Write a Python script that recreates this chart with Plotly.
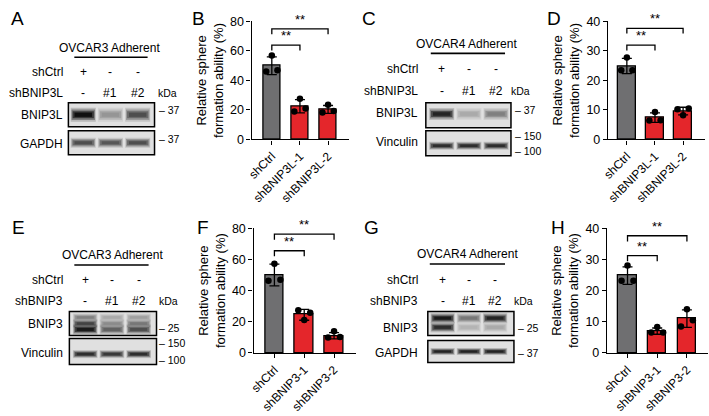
import plotly.graph_objects as go

W, H = 709, 416
FONT = "Liberation Sans, Arial, sans-serif"
GRAY = "#6f6f71"
RED = "#e4262b"

# ---------------- bar chart data ----------------
b_labels = ["shCtrl", "shBNIP3L-1", "shBNIP3L-2"]
b_means = [50.0, 22.5, 20.3]
b_sd = [6.0, 4.5, 2.7]
b_points = [[57.0, 46.0, 47.0], [27.5, 19.0, 21.0], [23.5, 18.3, 19.3]]

d_labels = ["shCtrl", "shBNIP3L-1", "shBNIP3L-2"]
d_means = [24.9, 7.4, 9.6]
d_sd = [2.6, 1.6, 1.3]
d_points = [[27.8, 23.5, 23.5], [9.3, 6.4, 6.5], [8.2, 10.2, 10.5]]

f_labels = ["shCtrl", "shBNIP3-1", "shBNIP3-2"]
f_means = [50.0, 24.5, 11.0]
f_sd = [7.0, 3.5, 2.0]
f_points = [[57.3, 46.4, 47.0], [21.2, 27.4, 25.8], [14.0, 9.9, 10.3]]

h_labels = ["shCtrl", "shBNIP3-1", "shBNIP3-2"]
h_means = [24.8, 7.0, 11.0]
h_sd = [2.8, 1.0, 2.8]
h_points = [[28.1, 23.2, 23.2], [8.3, 6.6, 6.6], [14.0, 8.5, 10.5]]

# significance brackets: (from, to, height)
b_brackets = [(0, 1, 64.0), (0, 2, 75.0)]
d_brackets = [(0, 1, 32.0), (0, 2, 37.7)]
f_brackets = [(0, 1, 65.6), (0, 2, 76.3)]
h_brackets = [(0, 1, 31.2), (0, 2, 37.6)]

# ---------------- western blot band intensities (0 = none, 1 = black) ----------------
a_bnip3l = [1.0, 0.35, 0.7]
a_gapdh = [0.7, 0.65, 0.7]
c_bnip3l = [0.9, 0.25, 0.45]
c_vinculin = [0.85, 0.85, 0.85]
e_bnip3_top = [0.45, 0.25, 0.3]
e_bnip3_mid = [0.75, 0.4, 0.5]
e_bnip3_low = [0.95, 0.6, 0.7]
e_vinculin = [0.85, 0.8, 0.85]
g_bnip3_up = [0.95, 0.5, 0.9]
g_bnip3_low = [0.85, 0.2, 0.25]
g_gapdh = [0.9, 0.9, 0.9]

sh_ctrl = ["+", "-", "-"]
sh_lanes = ["-", "#1", "#2"]

JIT = [0.0, -0.2, 0.2]

LAB = 12      # blot label size
SMALL = 10.5  # kDa / marker size


def px(x):
    return x / W


def py(y):
    return 1 - y / H


fig = go.Figure()
annotations = []
shapes = []
axes = {}


def ann(x, y, text, xanchor="center", size=LAB, yanchor="middle"):
    annotations.append(dict(
        x=px(x), y=py(y), xref="paper", yref="paper", text=text,
        showarrow=False, xanchor=xanchor, yanchor=yanchor,
        font=dict(size=size, color="black", family=FONT)))


def add_bar_panel(n, labels, means, sd, points, ymax, dtick, brackets, box, xr):
    xa, ya = f"x{n}", f"y{n}"
    fig.add_trace(go.Bar(
        x=[0, 1, 2], y=means, width=0.62,
        marker=dict(color=[GRAY, RED, RED], line=dict(color="black", width=1.3)),
        error_y=dict(type="data", array=sd, color="black", thickness=1.3, width=5),
        xaxis=xa, yaxis=ya, showlegend=False))
    for i, pts in enumerate(points):
        fig.add_trace(go.Scatter(
            x=[i + j for j in JIT], y=pts, mode="markers",
            marker=dict(color="black", size=6.5),
            xaxis=xa, yaxis=ya, showlegend=False))
    drop = ymax * 0.045
    for a, b, h in brackets:
        fig.add_trace(go.Scatter(
            x=[a, a, b, b], y=[h - drop, h, h, h - drop], mode="lines",
            line=dict(color="black", width=1.3),
            xaxis=xa, yaxis=ya, showlegend=False))
        annotations.append(dict(
            x=(a + b) / 2, y=h, xref=xa, yref=ya, text="**", showarrow=False,
            yanchor="bottom", font=dict(size=13, color="black", family=FONT)))
    axes[f"xaxis{n}"] = dict(
        domain=[px(box[0]), px(box[1])], range=xr, anchor=ya,
        tickvals=[0, 1, 2], ticktext=labels, tickangle=-45,
        showline=True, linecolor="black", linewidth=1.4,
        ticks="outside", ticklen=4, tickwidth=1.3, tickcolor="black",
        showgrid=False, zeroline=False,
        tickfont=dict(size=12, color="black", family=FONT))
    axes[f"yaxis{n}"] = dict(
        domain=[py(box[3]), py(box[2])], range=[0, ymax], dtick=dtick, anchor=xa,
        showline=True, linecolor="black", linewidth=1.4,
        ticks="outside", ticklen=4, tickwidth=1.3, tickcolor="black",
        showgrid=False, zeroline=False,
        tickfont=dict(size=12.5, color="black", family=FONT),
        title=dict(text="Relative sphere<br>formation ability (%)", standoff=3,
                   font=dict(size=13, color="black", family=FONT)))


def add_blot(n, box, lanes_px, bands, bg="#e0e0e0"):
    xa, ya = f"x{n}", f"y{n}"
    sp = (lanes_px[-1] - lanes_px[0]) / (len(lanes_px) - 1)
    xr = [(box[0] - lanes_px[0]) / sp, (box[1] - lanes_px[0]) / sp]
    shapes.append(dict(
        type="rect", xref="paper", yref="paper",
        x0=px(box[0]), x1=px(box[1]), y0=py(box[3]), y1=py(box[2]),
        fillcolor=bg, line=dict(color="black", width=1.5), layer="below"))
    for row, inten, thick in bands:
        for i, v in enumerate(inten):
            lvl = int(222 - 210 * v)
            col = f"rgb({lvl},{lvl},{lvl})"
            # soft halo -> body -> core, to mimic a blurred band
            for half, wmul, op in [(0.46, 2.0, 0.18), (0.43, 1.5, 0.35),
                                   (0.39, 1.0, 0.6), (0.32, 0.6, 0.9)]:
                fig.add_trace(go.Scatter(
                    x=[i - half, i + half], y=[row, row], mode="lines",
                    line=dict(color=col, width=thick * wmul), opacity=op,
                    xaxis=xa, yaxis=ya, showlegend=False, hoverinfo="skip"))
    axes[f"xaxis{n}"] = dict(domain=[px(box[0]), px(box[1])], range=xr, anchor=ya,
                             visible=False, fixedrange=True)
    axes[f"yaxis{n}"] = dict(domain=[py(box[3]), py(box[2])], range=[1, 0], anchor=xa,
                             visible=False, fixedrange=True)


def blot_header(cell, cx, line_x, line_y, lab_x, lanes_px, rows_y, kda_x, gene):
    ann(cx, line_y - 10, cell + " Adherent")
    shapes.append(dict(type="line", xref="paper", yref="paper",
                       x0=px(line_x[0]), x1=px(line_x[1]), y0=py(line_y), y1=py(line_y),
                       line=dict(color="black", width=1.6)))
    ann(lab_x, rows_y[0], "shCtrl", xanchor="right")
    ann(lab_x, rows_y[1], gene, xanchor="right")
    for lx, c, s in zip(lanes_px, sh_ctrl, sh_lanes):
        ann(lx, rows_y[0], c)
        ann(lx, rows_y[1], s)
    ann(kda_x, rows_y[1], "kDa", size=SMALL)


# ---------------- bar panels ----------------
add_bar_panel(1, b_labels, b_means, b_sd, b_points, 80, 20, b_brackets,
              (247, 345, 15, 137), [-0.72, 2.73])
add_bar_panel(2, d_labels, d_means, d_sd, d_points, 40, 10, d_brackets,
              (607, 705, 15, 137), [-0.67, 2.78])
add_bar_panel(3, f_labels, f_means, f_sd, f_points, 80, 20, f_brackets,
              (249, 352, 229, 358), [-0.7, 2.72])
add_bar_panel(4, h_labels, h_means, h_sd, h_points, 40, 10, h_brackets,
              (606, 708, 229, 358), [-0.69, 2.71])

# ---------------- blot panels ----------------
lanes_a = [77, 104, 132]
lanes_c = [439, 467, 494]
lanes_e = [79, 106, 133]
lanes_g = [440, 467, 493]

add_blot(5, (62, 149, 99, 124), lanes_a, [(0.5, a_bnip3l, 7)])
add_blot(6, (62, 149, 128, 153), lanes_a, [(0.5, a_gapdh, 5)])
add_blot(7, (423, 509, 99, 125), lanes_c, [(0.45, c_bnip3l, 6)])
add_blot(8, (423, 509, 128, 154), lanes_c, [(0.6, c_vinculin, 4)])
add_blot(9, (63, 151, 315, 340), lanes_e,
         [(0.25, e_bnip3_top, 4), (0.5, e_bnip3_mid, 4), (0.75, e_bnip3_low, 5)])
add_blot(10, (63, 151, 343, 370), lanes_e, [(0.6, e_vinculin, 4)])
add_blot(11, (425, 512, 315, 340), lanes_g,
         [(0.28, g_bnip3_up, 5), (0.66, g_bnip3_low, 5)])
add_blot(12, (425, 512, 345, 368), lanes_g, [(0.5, g_gapdh, 3.5)])

blot_header("OVCAR3", 104, (68, 142), 52, 59, lanes_a, (67, 89), 162, "shBNIP3L")
ann(59, 112, "BNIP3L", xanchor="right")
ann(59, 142, "GAPDH", xanchor="right")
ann(151, 107, "– 37", xanchor="left", size=SMALL)
ann(151, 137, "– 37", xanchor="left", size=SMALL)

blot_header("OVCAR4", 464, (428, 503), 48, 417, lanes_c, (64, 87), 519, "shBNIP3L")
ann(417, 110, "BNIP3L", xanchor="right")
ann(417, 140, "Vinculin", xanchor="right")
ann(511, 107, "– 37", xanchor="left", size=SMALL)
ann(511, 133, "– 150", xanchor="left", size=SMALL)
ann(511, 149, "– 100", xanchor="left", size=SMALL)

blot_header("OVCAR3", 107, (68, 143), 267, 59, lanes_e, (282, 304), 163, "shBNIP3")
ann(59, 328, "BNIP3", xanchor="right")
ann(59, 358, "Vinculin", xanchor="right")
ann(152, 332, "– 25", xanchor="left", size=SMALL)
ann(152, 348, "– 150", xanchor="left", size=SMALL)
ann(152, 365, "– 100", xanchor="left", size=SMALL)

blot_header("OVCAR4", 465, (427, 503), 266, 417, lanes_g, (282, 304), 522, "shBNIP3")
ann(417, 332, "BNIP3", xanchor="right")
ann(417, 358, "GAPDH", xanchor="right")
ann(514, 332, "– 25", xanchor="left", size=SMALL)
ann(514, 358, "– 37", xanchor="left", size=SMALL)

# panel letters
for letter, x, y in [("A", 2, 12), ("B", 185, 12), ("C", 357, 12), ("D", 543, 12),
                     ("E", 3, 228), ("F", 190, 228), ("G", 359, 228), ("H", 547, 228)]:
    ann(x, y, letter, xanchor="left", size=19)

fig.update_layout(
    width=W, height=H, margin=dict(l=0, r=0, t=0, b=0),
    paper_bgcolor="white", plot_bgcolor="rgba(0,0,0,0)",
    font=dict(family=FONT, color="black"),
    annotations=annotations, shapes=shapes, showlegend=False, bargap=0,
    **axes)

# the page body has a default 8px margin; drop it so the figure sits at (0, 0)
fig.write_html("out.html", config={"displayModeBar": False},
               post_script="document.body.style.margin = '0';")
